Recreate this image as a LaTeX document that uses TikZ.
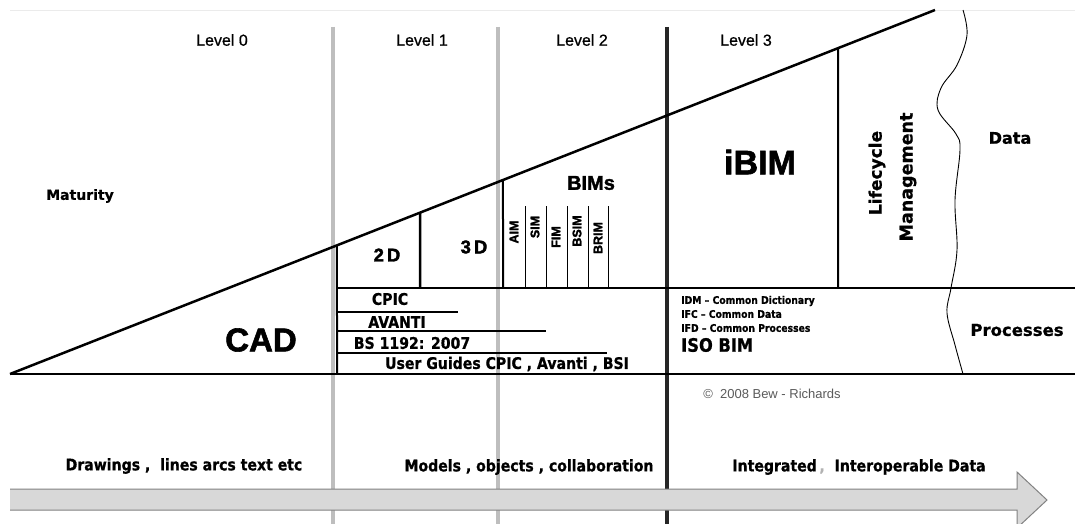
\documentclass[tikz,border=0pt]{standalone}
\usepackage{fontspec}
\setmainfont{Liberation Sans}
\newfontfamily\lvlf[FakeBold=0.7]{Liberation Sans}
\newfontfamily\heavy[BoldFeatures={FakeBold=1.8}]{Liberation Sans}
\newfontfamily\verd[BoldFeatures={FakeBold=0.8}]{DejaVu Sans}
\newfontfamily\tahm[FakeStretch=0.88, BoldFeatures={FakeBold=0.8}]{DejaVu Sans}
\usetikzlibrary{calc}
\newcommand{\fsz}[1]{\fontsize{#1}{#1}\selectfont}
\definecolor{lgray}{RGB}{190,190,190}
\definecolor{agray}{RGB}{216,216,216}
\definecolor{dgray}{RGB}{130,130,130}

\begin{document}
\begin{tikzpicture}[x=1pt, y=-1pt, inner sep=0pt,
    graybar/.style={lgray, line width=4pt},
    edge/.style={black, line width=2pt},
    thin/.style={black, line width=1pt},
    lvl/.style={font=\lvlf\fsz{16}},
    big/.style={font=\heavy\bfseries\fsz{#1}},
    vb/.style={font=\verd\bfseries\fsz{#1}},
    tb/.style={font=\tahm\bfseries\fsz{#1}}]
    \useasboundingbox (0,0) rectangle (1075,524);
    \fill[white] (0,0) rectangle (1075,524);
    \draw[black!8, line width=1pt] (10,11) -- (1075,11);

    % --- level dividers ---
    \draw[graybar] (333,27) -- (333,524);
    \draw[graybar] (498,27) -- (498,524);
    \draw[black!85, line width=4pt] (667,27) -- (667,524);
    \node[lvl] (lv0) at (222,40) {Level 0};
    \node[lvl] (lv1) at (422,40) {Level 1};
    \node[lvl] (lv2) at (582,40) {Level 2};
    \node[lvl] (lv3) at (746,40) {Level 3};

    % --- maturity wedge ---
    \coordinate (h0) at (10,374);
    \coordinate (h1) at (935,10);
    \draw[edge, line width=2.5pt] (h0) -- (h1);
    \draw[edge] (h0) -- (1075,374);
    \draw[edge] (337,288) -- (1075,288);
    \draw[edge] ($(h0)!{(337-10)/925}!(h1)$) -- (337,374);
    \draw[edge, line width=2.5pt] ($(h0)!{(420-10)/925}!(h1)$) -- (420,288);
    \draw[edge] ($(h0)!{(503-10)/925}!(h1)$) -- (503,288);
    \draw[edge] ($(h0)!{(838-10)/925}!(h1)$) -- (838,288);
    \foreach \x in {525,546,567,588,608}
      \draw[thin] (\x,206) -- (\x,288);

    \node[vb=14] (mat) at (80,196) {Maturity};
    \node[big=33] (cad) at (261,340) {CAD};
    \node[big=18.5] (d2) at (387,255) {2\,D};
    \node[big=18.5] (d3) at (474,247) {3\,D};
    \node[big=20] (bims) at (591,183) {BIMs};
    \foreach \t/\x/\y in {AIM/514/232, SIM/535/227, FIM/556/237,
                          BSIM/577/231, BRIM/598/238}
      \node[big=12.5, rotate=90] (bim-\t) at (\x,\y) {\t};
    \node[big=34] (ibim) at (760,162) {iBIM};
    \node[vb=17, rotate=90] (life) at (877,173) {Lifecycle};
    \node[vb=17.5, rotate=90] (mgmt) at (908,177) {Management};
    \node[vb=16] (data) at (1010,138) {Data};

    % --- wavy cut ---
    \draw[thin, line width=0.9pt] plot[smooth, tension=0.6] coordinates
      {(963,10) (967,35) (957,65) (941,88) (938,110) (956,134) (960,150)
       (955,200) (957,250) (951,288) (947,313) (955,345) (963,374)};

    % --- processes band ---
    \draw[thin, line width=1.2pt] (337,312) -- (458,312);
    \draw[thin, line width=1.2pt] (337,331) -- (546,331);
    \draw[thin, line width=1.2pt] (337,353) -- (607,353);
    \node[tb=16] (cpic) at (390,299) {CPIC};
    \node[tb=16] (avanti) at (397,322) {AVANTI};
    \node[tb=16] (bs) at (412,343) {BS 1192: 2007};
    \node[tb=16] (guides) at (507,364) {User Guides CPIC , Avanti , BSI};
    \node[tb=10.5, anchor=west] (idm) at (681,301) {IDM \char"2013\ Common Dictionary};
    \node[tb=10.5, anchor=west] (ifc) at (681,314) {IFC \char"2013\ Common Data};
    \node[tb=10.5, anchor=west] (ifd) at (681,328) {IFD \char"2013\ Common Processes};
    \node[tb=18.5, anchor=west] (iso) at (681,345) {ISO BIM};
    \node[vb=16.5] (proc) at (1017,330) {Processes};
    \node[dgray!70!black, font=\fsz{13}] (copy) at (772,394) {\char"00A9\ \ 2008 Bew - Richards};

    % --- timeline arrow ---
    \node[tb=16] (drw) at (184,466) {Drawings ,\ \ lines arcs text etc};
    \node[tb=16] (mod) at (529,467) {Models , objects , collaboration};
    \node[tb=16] (intg) at (859,467) {Integrated\textcolor{black!30}{\,,}\ \ Interoperable Data};
    \fill[agray] (10,489) -- (1017,489) -- (1017,472) -- (1047,500)
      -- (1017,528) -- (1017,510) -- (10,510) -- cycle;
    \draw[dgray, line width=1pt] (10,489) -- (1017,489) -- (1017,472)
      -- (1047,500) -- (1017,528) -- (1017,510) -- (10,510);
  \end{tikzpicture}
\end{document}
